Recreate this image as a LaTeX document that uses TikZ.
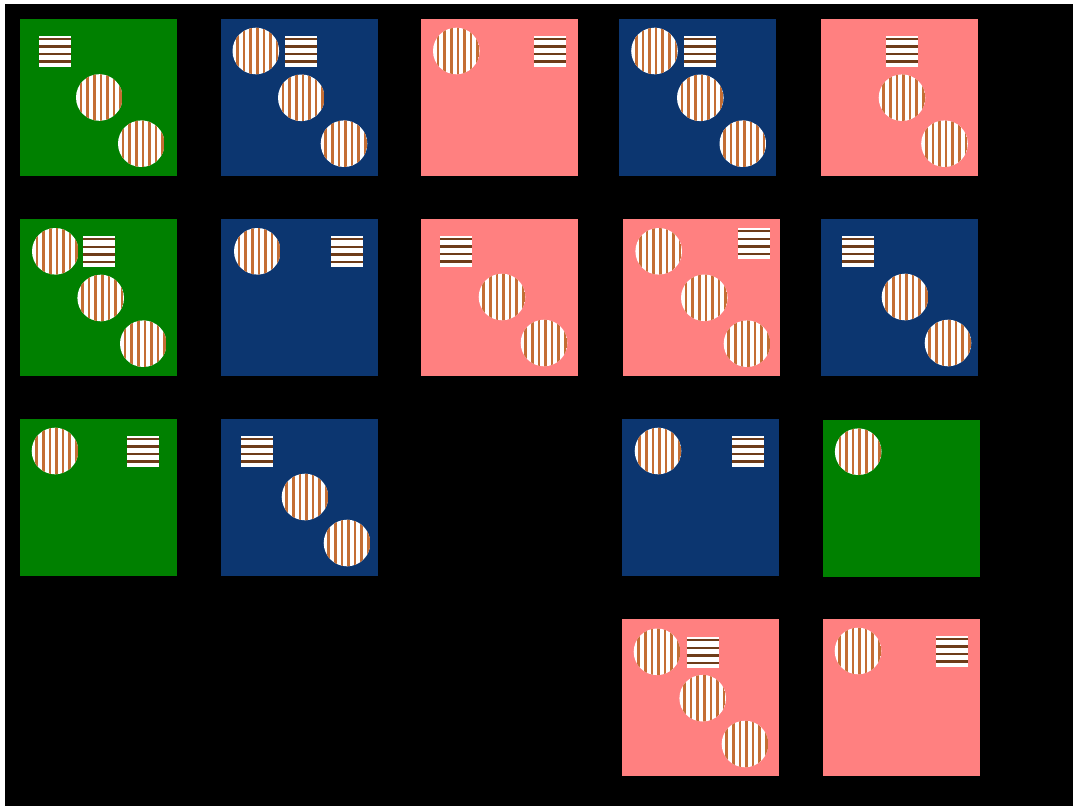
\documentclass[tikz,border=0pt]{standalone}
\definecolor{sqgreen}{RGB}{0,128,0}
\definecolor{sqblue}{RGB}{12,54,112}
\definecolor{sqpink}{RGB}{255,128,128}
\definecolor{cstripe}{RGB}{196,110,52}
\definecolor{rstripe}{RGB}{110,60,25}
\newcommand\stripedcircle[2]{%
  \begin{scope}
    \clip (#1,#2) circle (23.3);
    \fill[white] (#1-24,#2-24) rectangle (#1+24,#2+24);
    \foreach \k in {-3,...,3}
      \draw[cstripe, line width=2.6pt] (#1+\k*6.6+1.5,#2-24) -- (#1+\k*6.6+1.5,#2+24);
  \end{scope}}
\newcommand\stripedrect[2]{%
  \fill[white] (#1,#2) rectangle (#1+32,#2+31);
  \foreach \k in {0,...,3}
    \draw[rstripe, line width=2.4pt] (#1,#2+2.8+\k*7.6) -- (#1+32,#2+2.8+\k*7.6);}
\newcommand\sq[2]{\fill[#2] (0,0) rectangle (157,157);}
\begin{document}
\begin{tikzpicture}[x=1pt,y=-1pt]
  \useasboundingbox (0,0) rectangle (1073,808);
  \fill[white] (0,0) rectangle (1073,808);
  \fill[black] (5,4) rectangle (1073,806);
  % Row 1
  \begin{scope}[shift={(20,19)}]
    \sq{}{sqgreen}
    \stripedrect{19}{17}
    \stripedcircle{79.3}{78.5}
    \stripedcircle{121.3}{124.7}
  \end{scope}
  \begin{scope}[shift={(221,19)}]
    \sq{}{sqblue}
    \stripedcircle{34.8}{32}
    \stripedrect{64}{17}
    \stripedcircle{80.3}{78.8}
    \stripedcircle{123}{124.7}
  \end{scope}
  \begin{scope}[shift={(421,19)}]
    \sq{}{sqpink}
    \stripedcircle{35.3}{32}
    \stripedrect{113}{17}
  \end{scope}
  \begin{scope}[shift={(619,19)}]
    \sq{}{sqblue}
    \stripedcircle{35.5}{32}
    \stripedrect{65}{17}
    \stripedcircle{81.3}{78.8}
    \stripedcircle{123.8}{124.7}
  \end{scope}
  \begin{scope}[shift={(821,19)}]
    \sq{}{sqpink}
    \stripedrect{65}{17}
    \stripedcircle{81}{78.7}
    \stripedcircle{123.5}{124.7}
  \end{scope}
  % Row 2
  \begin{scope}[shift={(20,219)}]
    \sq{}{sqgreen}
    \stripedcircle{35.3}{32.3}
    \stripedrect{63}{17.3}
    \stripedcircle{80.7}{79}
    \stripedcircle{123.3}{124.7}
  \end{scope}
  \begin{scope}[shift={(221,219)}]
    \sq{}{sqblue}
    \stripedcircle{36.3}{32.3}
    \stripedrect{109.7}{17.3}
  \end{scope}
  \begin{scope}[shift={(421,219)}]
    \sq{}{sqpink}
    \stripedrect{19}{17}
    \stripedcircle{81}{78}
    \stripedcircle{123}{124}
  \end{scope}
  \begin{scope}[shift={(623,219)}]
    \sq{}{sqpink}
    \stripedcircle{35.7}{32.3}
    \stripedrect{114.7}{9.3}
    \stripedcircle{81.3}{78.8}
    \stripedcircle{124}{124.7}
  \end{scope}
  \begin{scope}[shift={(821,219)}]
    \sq{}{sqblue}
    \stripedrect{21}{17}
    \stripedcircle{84}{78}
    \stripedcircle{127}{124}
  \end{scope}
  % Row 3
  \begin{scope}[shift={(20,419)}]
    \sq{}{sqgreen}
    \stripedcircle{35}{32}
    \stripedrect{107}{17}
  \end{scope}
  \begin{scope}[shift={(221,419)}]
    \sq{}{sqblue}
    \stripedrect{20}{17}
    \stripedcircle{84}{78}
    \stripedcircle{126}{124}
  \end{scope}
  \begin{scope}[shift={(622,419)}]
    \sq{}{sqblue}
    \stripedcircle{36}{32}
    \stripedrect{110}{17}
  \end{scope}
  \begin{scope}[shift={(823,419.7)}]
    \sq{}{sqgreen}
    \stripedcircle{35.2}{32}
  \end{scope}
  % Row 4
  \begin{scope}[shift={(621.7,619.3)}]
    \sq{}{sqpink}
    \stripedcircle{35.3}{32.5}
    \stripedrect{65}{18}
    \stripedcircle{81}{78.9}
    \stripedcircle{123.3}{124.7}
  \end{scope}
  \begin{scope}[shift={(823,619)}]
    \sq{}{sqpink}
    \stripedcircle{35}{32}
    \stripedrect{113}{17}
  \end{scope}
\end{tikzpicture}
\end{document}
